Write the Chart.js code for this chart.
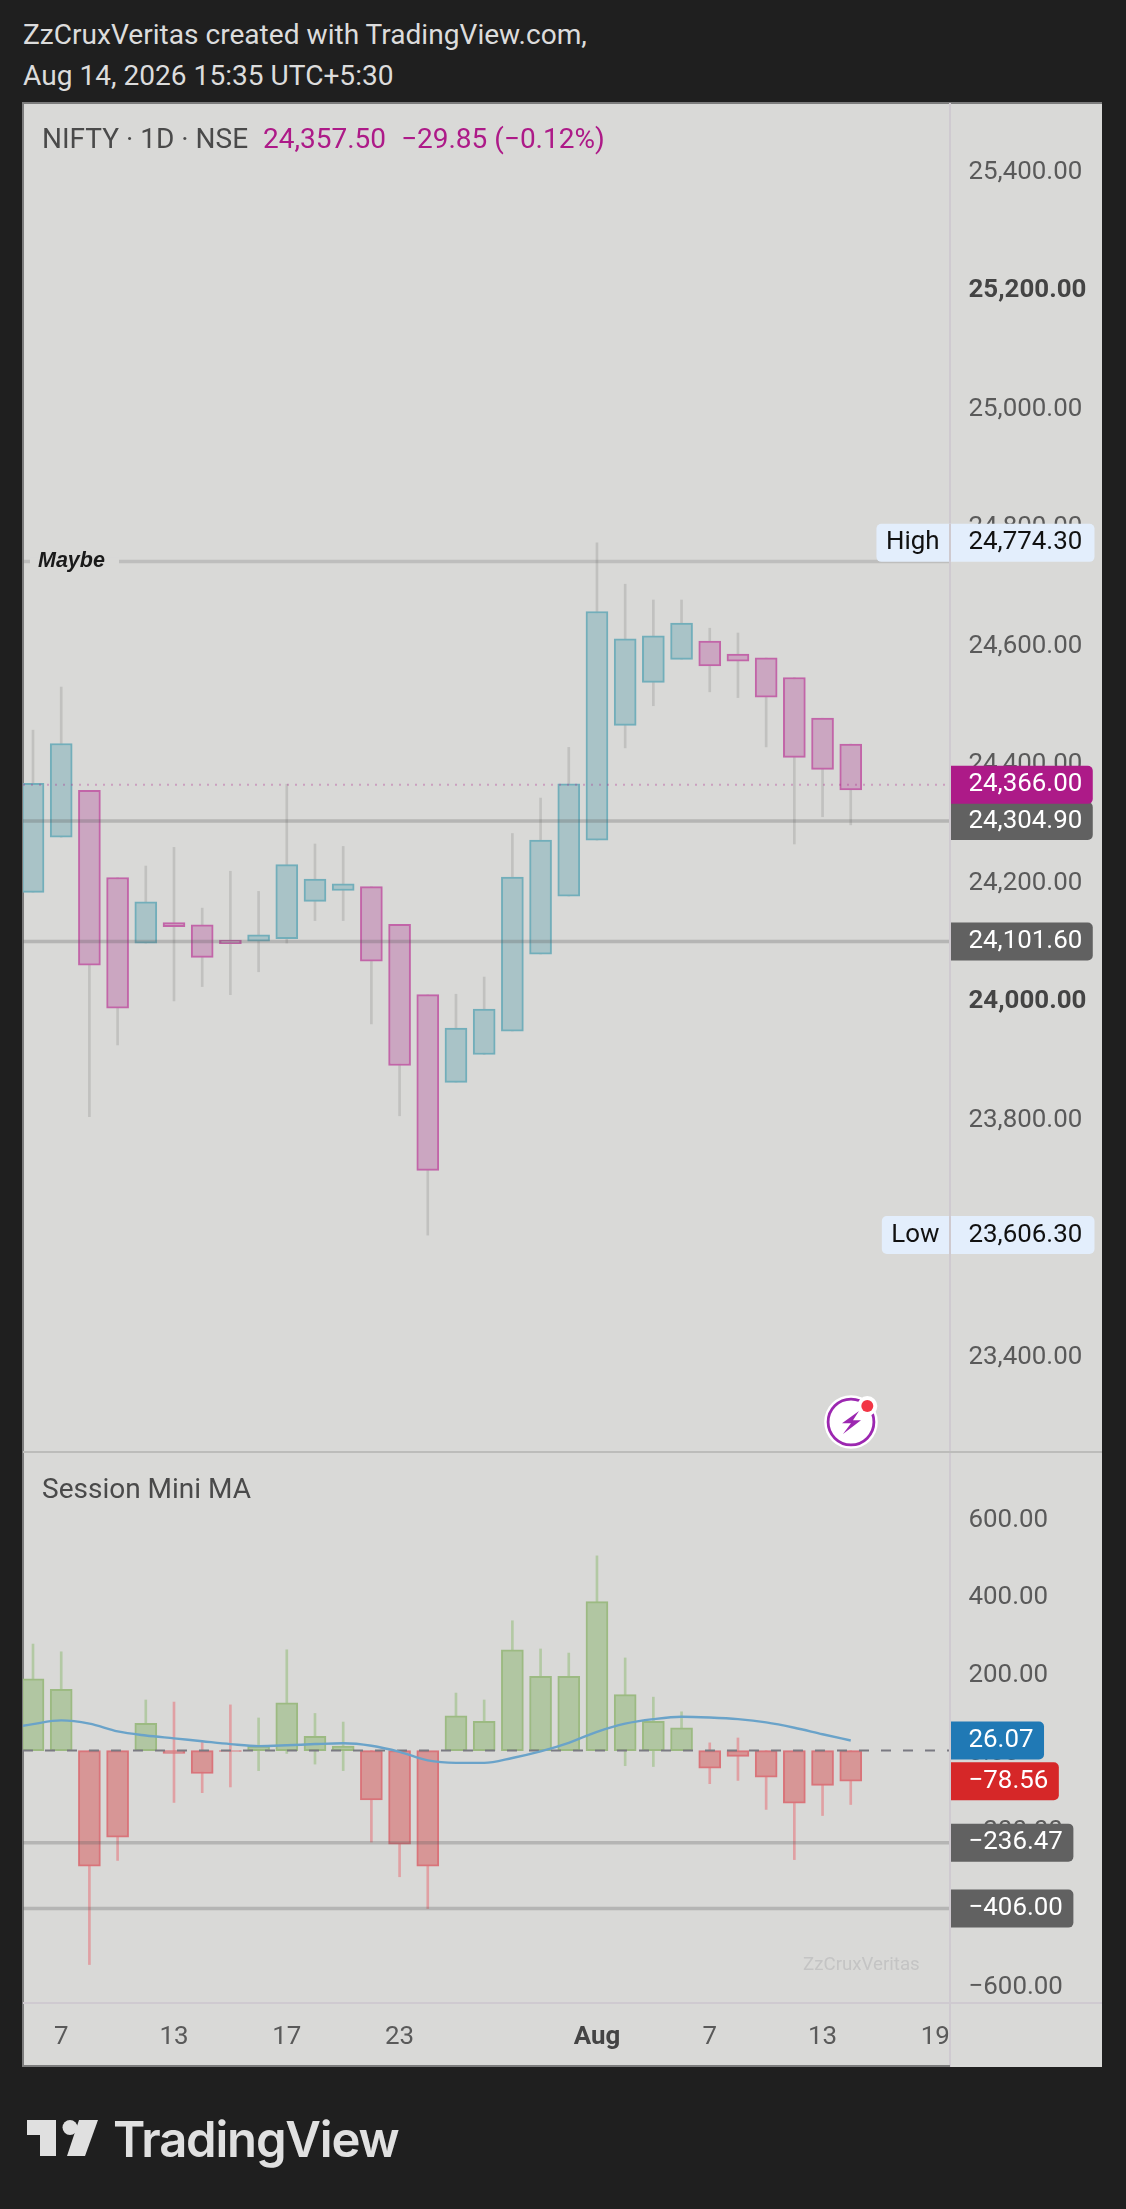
<!DOCTYPE html>
<html>
<head>
<meta charset="utf-8">
<title>NIFTY 1D</title>
<script src="https://cdn.jsdelivr.net/npm/chart.js@4/dist/chart.umd.min.js"></script>
<style>
  html, body { margin: 0; padding: 0; background: #1f1f1f; }
  body { position: relative; width: 1126px; height: 2209px; overflow: hidden; font-family: Roboto, sans-serif; }
  .abs { position: absolute; white-space: nowrap; line-height: 1; }
  #panel { position: absolute; left: 22px; top: 102px; width: 1080px; height: 1965px; background: #d9d9d7; border-top: 2px solid #7c7c7c; border-left: 2px solid #7c7c7c; box-sizing: border-box; }
  canvas { position: absolute; left: 23px; display: block; }
  #priceChart { top: 103px; }
  #oscChart { top: 1453px; }
  .head { color: #dcdcdc; font-size: 28.1px; left: 23px; }
  .legend { font-size: 28px; top: 125px; }
</style>
</head>
<body>
<div id="panel"></div>
<canvas id="priceChart" width="1079" height="1350"></canvas>
<canvas id="oscChart" width="1079" height="614"></canvas>

<div class="abs head" style="top:21px">ZzCruxVeritas created with TradingView.com,</div>
<div class="abs head" style="top:62px">Aug 14, 2026 15:35 UTC+5:30</div>
<div class="abs legend" style="left:42px;color:#4a4a4a">NIFTY · 1D · NSE</div>
<div class="abs legend" style="left:263px;color:#ad1a88">24,357.50</div>
<div class="abs legend" style="left:401px;color:#ad1a88">−29.85 (−0.12%)</div>
<div class="abs" style="left:42px;top:1475px;font-size:28px;color:#4a4a4a">Session Mini MA</div>
<div class="abs" style="left:803px;top:1955px;font-size:18.7px;color:#c4c4c4">ZzCruxVeritas</div>

<svg class="abs" style="left:819px;top:1391px" width="64" height="64" viewBox="0 0 64 64">
  <circle cx="32" cy="31" r="26.8" fill="#fff"/>
  <circle cx="32" cy="31" r="22.9" fill="none" stroke="#9c27b0" stroke-width="2.8"/>
  <path d="M40 20 L23 32.3 L32 32.3 L24 43 L42 29.3 L34 29.3 Z" fill="#9c27b0"/>
  <circle cx="48.3" cy="15" r="10" fill="#fff"/>
  <circle cx="48.3" cy="15" r="6" fill="#f23645"/>
</svg>

<svg class="abs" style="left:27px;top:2120px" width="72" height="37" viewBox="0 0 72 37">
  <path d="M0 0 H29 V36 H13 V15 H0 Z" fill="#e0e0e0"/>
  <circle cx="43" cy="7.5" r="7.5" fill="#e0e0e0"/>
  <path d="M52 0 H71 L58 36 H40 Z" fill="#e0e0e0"/>
</svg>
<div class="abs" style="left:113px;top:2115px;font-family:Inter,sans-serif;font-weight:600;font-size:49px;letter-spacing:-1.2px;color:#e0e0e0">TradingView</div>

<script>
// candle index 0 is the first session on screen, spacing comes from the x scale
const priceOpen = [24184.6, 24277.5, 24356.6, 24209.6, 24099.0, 24133.8, 24129.7, 24103.9, 24102.3, 24106.3, 24169.3, 24187.8, 24194.3, 24130.5, 24011.9, 23864.1, 23911.0, 23950.5, 24080.5, 24178.2, 24272.6, 24466.4, 24539.0, 24577.8, 24608.4, 24586.7, 24580.2, 24547.1, 24478.5, 24434.9];
const priceHigh = [24458.3, 24531.0, 24356.6, 24209.6, 24229.0, 24260.5, 24158.0, 24220.2, 24186.2, 24367.1, 24266.2, 24262.1, 24194.3, 24130.5, 24011.9, 24012.7, 24041.7, 24283.9, 24343.7, 24429.2, 24774.3, 24704.5, 24677.9, 24677.9, 24630.3, 24622.2, 24580.2, 24547.1, 24478.5, 24434.9];
const priceLow = [24184.6, 24277.5, 23806.0, 23927.1, 24099.0, 24001.4, 24025.6, 24011.9, 24050.6, 24099.0, 24137.0, 24137.0, 23962.6, 23807.6, 23606.3, 23864.1, 23911.0, 23950.5, 24080.5, 24178.2, 24272.6, 24428.4, 24499.5, 24577.8, 24522.9, 24513.2, 24430.0, 24266.2, 24312.2, 24298.5];
const priceClose = [24368.7, 24435.7, 24061.9, 23989.3, 24168.5, 24126.5, 24074.8, 24098.2, 24112.8, 24231.4, 24207.2, 24199.1, 24068.4, 23892.4, 23715.6, 23955.4, 23987.6, 24210.4, 24272.6, 24367.9, 24658.5, 24612.5, 24617.3, 24639.1, 24566.5, 24574.5, 24514.0, 24412.3, 24392.1, 24357.5];

const oscClose = [184.6, 157.4, -296.9, -222.4, 70.3, -7.3, -58.7, -2.0, 11.5, 122.7, 36.7, 11.5, -126.9, -240.2, -296.9, 89.2, 75.5, 259.1, 190.9, 190.9, 382.9, 143.7, 75.5, 58.7, -45.1, -14.7, -68.2, -135.3, -89.2, -78.56];
const oscHigh = [273.8, 253.9, 0, 0, 130.1, 124.8, 24.1, 117.5, 83.9, 259.1, 95.5, 73.4, 0, 0, 0, 147.9, 130.1, 333.6, 261.2, 250.7, 500.4, 238.1, 137.4, 99.7, 19.9, 32.5, 0, 0, 0, 0];
const oscLow = [0, 0, -549.7, -282.2, 0, -133.2, -108.0, -93.4, -51.4, -7.3, -34.6, -51.4, -235.0, -324.1, -406.0, 0, 0, 0, 0, 0, 0, -38.8, -40.9, 0, -85.0, -76.6, -151.1, -280.1, -166.8, -138.5];
// the average starts one session before the first candle, off the left edge
const oscMa = [55.6, 68.2, 77.6, 69.2, 49.3, 38.8, 31.5, 24.1, 16.8, 11.5, 13.6, 16.8, 18.9, 12.6, -3.1, -25.2, -31.5, -31.5, -18.9, -2.1, 19.9, 48.3, 69.2, 80.8, 87.1, 85.0, 80.8, 72.4, 58.7, 42.0, 26.07];

const priceTicks = [25400, 25200, 25000, 24800, 24600, 24400, 24200, 24000, 23800, 23600, 23400];
const boldPriceTicks = [25200, 24000];
const oscTicks = [600, 400, 200, 0, -200, -400, -600];
const timeTickIndex = [1, 5, 9, 13, 20, 24, 28, 32];
const timeTickLabels = ['7', '13', '17', '23', 'Aug', '7', '13', '19'];

const priceLevels = [24743, 24304.9, 24101.6];
const oscLevels = [-236.47, -406];
const lastPrice = 24366;

const priceBadges = [
  [24304.9, '#616161'],
  [24101.6, '#616161'],
  [24366, '#ad1a88']
];
const oscBadges = [
  [-236.47, '#616161'],
  [-406, '#616161'],
  [26.07, '#2079b5'],
  [-78.56, '#d62728']
];
const extremes = [['High', 24774.3], ['Low', 23606.3]];

const FONT = 'Roboto, sans-serif';
const TICK_SIZE = 25.9;
const X_MIN = -0.355, X_MAX = 32.52;
const TEAL = ['#a9c3c7', '#72aeba'], PINK = ['#cba6c1', '#c265a8'];
const GREEN = ['#b1c6a2', '#9cba82', '#b3c9a4'], RED = ['#d79696', '#d9747a', '#e0a0a3'];
const DIVIDER = '#cfcad0';

const fmt = v => v.toLocaleString('en-US', { minimumFractionDigits: 2, maximumFractionDigits: 2 }).replace('-', '−');

function roundedBadge(ctx, x, y, w, h, color) {
  ctx.fillStyle = color;
  ctx.beginPath();
  ctx.roundRect(x, y, w, h, [0, 5, 5, 0]);
  ctx.fill();
}

function drawValueBadges(chart, list) {
  const { ctx } = chart;
  const y = chart.scales.y;
  ctx.save();
  ctx.font = `${TICK_SIZE}px ${FONT}`;
  ctx.textBaseline = 'middle';
  list.forEach(([v, color]) => {
    const py = y.getPixelForValue(v);
    const label = fmt(v);
    roundedBadge(ctx, 928, py - 19, ctx.measureText(label).width + 28, 38, color);
    ctx.fillStyle = '#fff';
    ctx.fillText(label, 945.5, py);
  });
  ctx.restore();
}

const priceOverlay = {
  id: 'priceOverlay',
  afterDraw(chart) {
    const { ctx } = chart;
    const y = chart.scales.y;
    const x = chart.scales.x;
    ctx.save();
    // note on the first horizontal level
    const ny = y.getPixelForValue(priceLevels[0]);
    ctx.fillStyle = '#d9d9d7';
    ctx.fillRect(7, ny - 4, 89, 8);
    ctx.fillStyle = '#1a1a1a';
    ctx.font = `italic bold 21.5px "Liberation Sans", sans-serif`;
    ctx.textBaseline = 'middle';
    ctx.fillText('Maybe', 15, ny);

    ctx.fillStyle = DIVIDER;
    ctx.fillRect(x.right - 1, 0, 2, chart.height);
    ctx.fillStyle = '#bcbcba';
    ctx.fillRect(0, chart.height - 2, chart.width, 2);
    drawValueBadges(chart, priceBadges);

    ctx.font = `${TICK_SIZE}px ${FONT}`;
    extremes.forEach(([name, v]) => {
      const py = y.getPixelForValue(v);
      const tw = ctx.measureText(name).width;
      ctx.fillStyle = '#e3eefc';
      ctx.beginPath();
      ctx.roundRect(x.right - tw - 20, py - 19, tw + 20 + 144.5, 38, 5);
      ctx.fill();
      ctx.fillStyle = DIVIDER;
      ctx.fillRect(x.right - 1, py - 19, 2, 38);
      ctx.fillStyle = '#111';
      ctx.fillText(name, x.right - tw - 10.5, py);
      ctx.fillText(fmt(v), 945.5, py);
    });
    ctx.restore();
  }
};

const oscOverlay = {
  id: 'oscOverlay',
  afterDraw(chart) {
    const { ctx } = chart;
    const x = chart.scales.x;
    ctx.save();
    ctx.fillStyle = DIVIDER;
    ctx.fillRect(0, x.top - 1, chart.width, 2);
    ctx.fillRect(x.right - 1, 0, 2, chart.height);
    ctx.fillStyle = '#7c7c7c';
    ctx.fillRect(0, chart.height - 2, x.right, 2);
    ctx.restore();
    drawValueBadges(chart, oscBadges);
  }
};

const baseOptions = {
  responsive: false,
  animation: false,
  devicePixelRatio: 1,
  layout: { padding: 0 },
  plugins: { legend: { display: false }, tooltip: { enabled: false } }
};

function wickData(low, high) {
  return low.map((v, i) => ({ x: i, y: [v, high[i]] }));
}

function levelLine(value, color, width, dash) {
  return {
    type: 'line',
    order: 1,
    data: [{ x: X_MIN, y: value }, { x: X_MAX, y: value }],
    borderColor: color,
    borderWidth: width,
    borderDash: dash || [],
    pointRadius: 0
  };
}

function yAxis(min, max, ticks, isBold, offset) {
  return {
    position: 'right',
    min,
    max,
    grid: { display: false, drawTicks: false },
    border: { display: false },
    afterFit(s) { s.width = 152; s.paddingTop = 0; s.paddingBottom = 0; },
    afterBuildTicks(s) { s.ticks = ticks.map(value => ({ value })); },
    ticks: {
      autoSkip: false,
      padding: 18.5,
      labelOffset: offset,
      color: c => c.tick && isBold(c.tick.value) ? '#444444' : '#5a5a5a',
      font: c => ({ family: FONT, size: TICK_SIZE, weight: c.tick && isBold(c.tick.value) ? 'bold' : 'normal' }),
      callback: v => fmt(v)
    }
  };
}

new Chart(document.getElementById('priceChart'), {
  type: 'bar',
  plugins: [priceOverlay],
  data: {
    datasets: [
      {
        order: 3,
        grouped: false,
        barThickness: 2,
        backgroundColor: '#c1c1bf',
        data: wickData(priceLow, priceHigh)
      },
      {
        order: 2,
        grouped: false,
        barThickness: 22,
        borderWidth: 2,
        borderSkipped: false,
        backgroundColor: priceOpen.map((o, i) => priceClose[i] >= o ? TEAL[0] : PINK[0]),
        borderColor: priceOpen.map((o, i) => priceClose[i] >= o ? TEAL[1] : PINK[1]),
        data: priceOpen.map((o, i) => ({ x: i, y: [o, priceClose[i]] }))
      },
      levelLine(priceLevels[0], 'rgba(120,120,118,0.27)', 3.5),
      levelLine(priceLevels[1], 'rgba(90,90,88,0.28)', 3.5),
      levelLine(priceLevels[2], 'rgba(90,90,88,0.28)', 3.5),
      levelLine(lastPrice, 'rgba(173,26,136,0.3)', 2, [2, 6])
    ]
  },
  options: {
    ...baseOptions,
    scales: {
      x: { type: 'linear', min: X_MIN, max: X_MAX, offset: false, display: false, grid: { display: false } },
      y: yAxis(23238.6, 25516.5, priceTicks, v => boldPriceTicks.includes(v), 0)
    }
  }
});

new Chart(document.getElementById('oscChart'), {
  type: 'bar',
  plugins: [oscOverlay],
  data: {
    datasets: [
      {
        order: 4,
        grouped: false,
        barThickness: 2,
        backgroundColor: oscClose.map(v => v >= 0 ? GREEN[2] : RED[2]),
        data: wickData(oscLow, oscHigh)
      },
      {
        order: 3,
        grouped: false,
        barThickness: 22,
        borderWidth: 2,
        borderSkipped: false,
        backgroundColor: oscClose.map(v => v >= 0 ? GREEN[0] : RED[0]),
        borderColor: oscClose.map(v => v >= 0 ? GREEN[1] : RED[1]),
        data: oscClose.map((v, i) => ({ x: i, y: [0, v] }))
      },
      levelLine(oscLevels[0], 'rgba(90,90,88,0.28)', 3.5),
      levelLine(oscLevels[1], 'rgba(90,90,88,0.28)', 3.5),
      levelLine(0, '#7a7a82', 2, [10, 12]),
      {
        type: 'line',
        order: 0,
        data: oscMa.map((y, i) => ({ x: i - 1, y })),
        borderColor: '#6aa3c9',
        borderWidth: 2.4,
        pointRadius: 0,
        cubicInterpolationMode: 'monotone'
      }
    ]
  },
  options: {
    ...baseOptions,
    scales: {
      x: {
        type: 'linear',
        min: X_MIN,
        max: X_MAX,
        offset: false,
        grid: { display: false, drawTicks: false },
        border: { display: false },
        afterFit(s) { s.height = 64; },
        afterBuildTicks(s) { s.ticks = timeTickIndex.map(value => ({ value })); },
        ticks: {
          autoSkip: false,
          maxRotation: 0,
          padding: 19,
          color: c => c.index === 4 ? '#444444' : '#5a5a5a',
          font: c => ({ family: FONT, size: TICK_SIZE, weight: c.index === 4 ? 'bold' : 'normal' }),
          callback: (v, i) => timeTickLabels[i]
        }
      },
      y: yAxis(-648.5, 764.7, oscTicks, () => false, 3)
    }
  }
});
</script>
</body>
</html>
